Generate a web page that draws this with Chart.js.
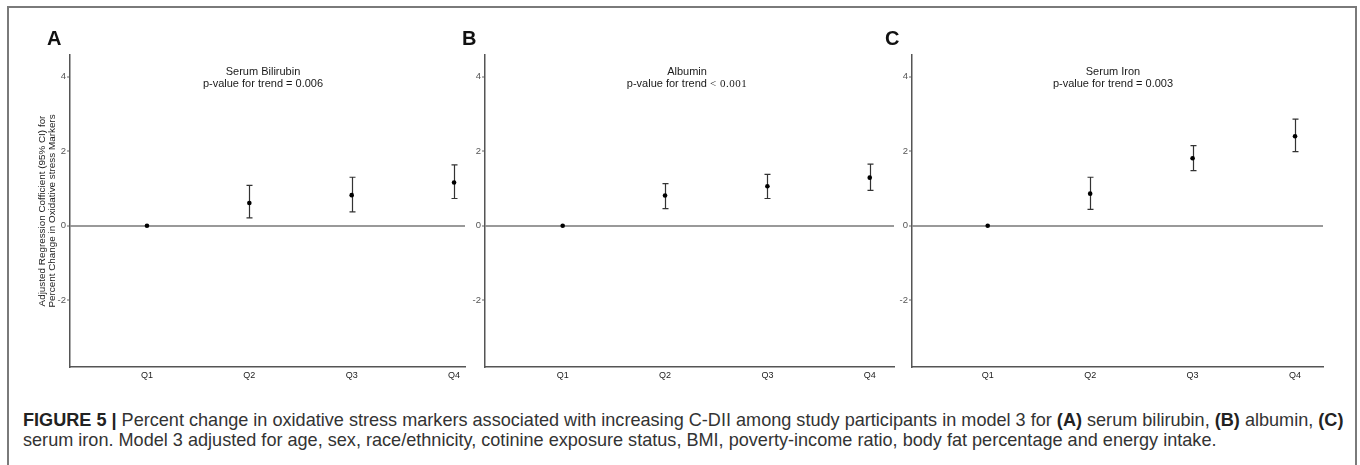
<!DOCTYPE html>
<html><head><meta charset="utf-8">
<script src="https://cdn.jsdelivr.net/npm/chart.js@4/dist/chart.umd.min.js"></script>
<style>
html,body{margin:0;padding:0;background:#fff;}
body{width:1360px;height:465px;position:relative;overflow:hidden;font-family:"Liberation Sans",Arial,sans-serif;}
#frame{position:absolute;left:7px;top:6px;width:1350px;height:480px;border:2px solid #7a7a7a;box-sizing:border-box;}
.cv{position:absolute;top:0;}
.letter{position:absolute;top:28px;font-weight:bold;font-size:20px;line-height:20px;color:#111;}
.ptitle{position:absolute;top:65px;width:300px;text-align:center;font-size:11px;line-height:12px;color:#1a1a1a;}
.serif{font-family:"Liberation Serif","DejaVu Serif",serif;letter-spacing:0.5px;}
#caption{position:absolute;left:23px;top:410px;white-space:nowrap;font-size:18.1px;line-height:20px;color:#333;}
#caption b{color:#222;}
</style></head>
<body>
<div id="frame"></div>
<canvas id="cA" class="cv" width="467" height="395" style="left:10px"></canvas>
<canvas id="cB" class="cv" width="436" height="395" style="left:470px"></canvas>
<canvas id="cC" class="cv" width="438" height="395" style="left:897px"></canvas>
<div class="letter" style="left:47px">A</div>
<div class="letter" style="left:462px">B</div>
<div class="letter" style="left:885px">C</div>
<div class="ptitle" style="left:113px">Serum Bilirubin<br>p-value for trend = 0.006</div>
<div class="ptitle" style="left:537px">Albumin<br>p-value for trend <span class="serif">&lt; 0.001</span></div>
<div class="ptitle" style="left:963px">Serum Iron<br>p-value for trend = 0.003</div>
<div id="caption"><b>FIGURE 5 |</b> Percent change in oxidative stress markers associated with increasing C-DII among study participants in model 3 for <b>(A)</b> serum bilirubin, <b>(B)</b> albumin, <b>(C)</b><br>serum iron. Model 3 adjusted for age, sex, race/ethnicity, cotinine exposure status, BMI, poverty-income ratio, body fat percentage and energy intake.</div>
<script>
const categories = ['Q1', 'Q2', 'Q3', 'Q4'];
const yTicks = [-2, 0, 2, 4];
const yAxisTitle = ['Adjusted Regression Cofficient (95% CI) for', 'Percent Change in Oxidative stress Markers'];

const bilirubinEst  = [0, 0.61, 0.82, 1.16];
const bilirubinLow  = [0, 0.21, 0.37, 0.73];
const bilirubinHigh = [0, 1.08, 1.30, 1.63];

const albuminEst  = [0, 0.81, 1.06, 1.29];
const albuminLow  = [0, 0.46, 0.73, 0.95];
const albuminHigh = [0, 1.13, 1.38, 1.65];

const ironEst  = [0, 0.86, 1.81, 2.40];
const ironLow  = [0, 0.44, 1.48, 1.99];
const ironHigh = [0, 1.30, 2.15, 2.86];

const errorBars = {
  id: 'errorBars',
  beforeDatasetsDraw(chart) {
    const {ctx, scales: {x, y}} = chart;
    const ds = chart.data.datasets[0];
    ctx.save();
    ctx.strokeStyle = '#333';
    ctx.lineWidth = 1.2;
    ds.errLow.forEach((lo, i) => {
      const hi = ds.errHigh[i];
      if (lo === hi) return;
      const px = Math.round(x.getPixelForValue(i + 1)) + 0.5;
      const p1 = y.getPixelForValue(lo), p2 = y.getPixelForValue(hi);
      ctx.beginPath();
      ctx.moveTo(px, p1); ctx.lineTo(px, p2);
      ctx.moveTo(px - 3, p1); ctx.lineTo(px + 3, p1);
      ctx.moveTo(px - 3, p2); ctx.lineTo(px + 3, p2);
      ctx.stroke();
    });
    ctx.restore();
  }
};

function makePanel(id, est, low, high, cfg) {
  new Chart(document.getElementById(id), {
    type: 'scatter',
    data: {
      datasets: [{
        data: est.map((v, i) => ({x: i + 1, y: v})),
        errLow: low,
        errHigh: high,
        pointRadius: 2.3,
        pointHoverRadius: 2.3,
        backgroundColor: '#000',
        borderWidth: 0
      }]
    },
    options: {
      responsive: false,
      animation: false,
      events: [],
      layout: {padding: {top: 55, right: 12, bottom: 0, left: 0}},
      plugins: {legend: {display: false}, tooltip: {enabled: false}, title: {display: false}},
      scales: {
        x: {
          type: 'linear',
          min: cfg.xmin, max: cfg.xmax,
          afterBuildTicks: s => { s.ticks = categories.map((c, i) => ({value: i + 1})); },
          afterFit: s => { s.height = 28; },
          ticks: {
            callback: v => categories[v - 1],
            autoSkip: false, maxRotation: 0,
            color: '#222', padding: 3,
            font: {family: '"Liberation Sans", Arial, sans-serif', size: 9}
          },
          grid: {display: false, drawTicks: false},
          border: {display: true, color: '#555', width: 1.5}
        },
        y: {
          type: 'linear',
          min: -3.79, max: 4.58,
          afterBuildTicks: s => { s.ticks = yTicks.map(v => ({value: v})); },
          afterFit: s => { s.width = cfg.yWidth; },
          ticks: {
            color: '#555', padding: 1,
            font: {family: '"Liberation Sans", Arial, sans-serif', size: 9.5}
          },
          grid: {
            display: true,
            drawTicks: true, tickLength: 3, tickColor: '#666', tickWidth: 1,
            color: c => (c.tick && c.tick.value === 0) ? '#999' : 'rgba(0,0,0,0)',
            lineWidth: 2
          },
          border: {display: true, color: '#555', width: 1.5},
          title: cfg.title ? {
            display: true,
            text: yAxisTitle,
            color: '#222',
            padding: {top: 28, bottom: 0},
            font: {family: '"Liberation Sans", Arial, sans-serif', size: 9.9, lineHeight: 0.93}
          } : {display: false}
        }
      }
    },
    plugins: [errorBars]
  });
}

makePanel('cA', bilirubinEst, bilirubinLow, bilirubinHigh, {xmin: 0.248, xmax: 4.107, yWidth: 60, title: true});
makePanel('cB', albuminEst, albuminLow, albuminHigh, {xmin: 0.241, xmax: 4.237, yWidth: 15, title: false});
makePanel('cC', ironEst, ironLow, ironHigh, {xmin: 0.261, xmax: 4.273, yWidth: 15, title: false});
</script>
</body></html>
